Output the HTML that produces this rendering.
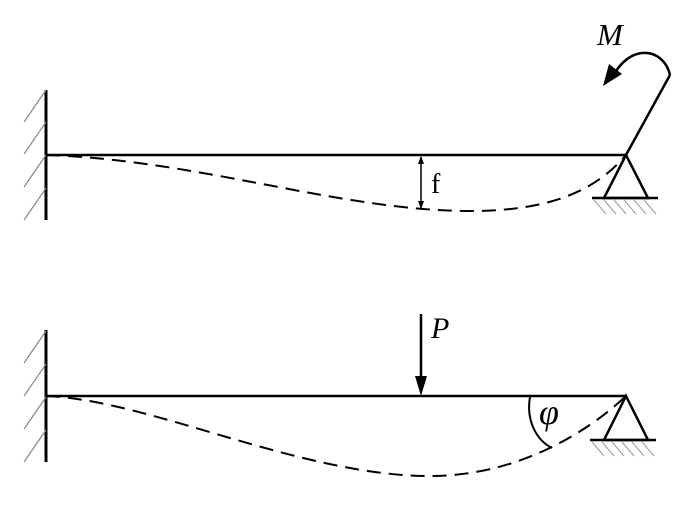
<!DOCTYPE html>
<html><head><meta charset="utf-8"><style>html,body{margin:0;padding:0;background:#fff}</style></head>
<body>
<svg width="695" height="512" viewBox="0 0 695 512" xmlns="http://www.w3.org/2000/svg">
<defs>
<marker id="as" markerWidth="8" markerHeight="8" refX="7" refY="4" orient="auto" markerUnits="userSpaceOnUse"><path d="M0,1 L8,4 L0,7 z" fill="#000"/></marker>
<marker id="as2" markerWidth="8" markerHeight="8" refX="7" refY="4" orient="auto-start-reverse" markerUnits="userSpaceOnUse"><path d="M0,1 L8,4 L0,7 z" fill="#000"/></marker>
</defs>
<g stroke="#000" fill="none">
<line x1="46" y1="90" x2="46" y2="220" stroke-width="3"/>
<g stroke="#888" stroke-width="1.2">
<line x1="46" y1="90" x2="24" y2="122"/><line x1="46" y1="122" x2="24" y2="154"/><line x1="46" y1="155" x2="24" y2="187"/><line x1="46" y1="188" x2="24" y2="220"/>
</g>
<line x1="46" y1="155" x2="626" y2="155" stroke-width="2.5"/>
<path d="M46,155 C200,160 340,211 470,211 C560,211 600,185 626,155" stroke-width="2" stroke-dasharray="14,8"/>
<path d="M626,155 L604,198 L648,198 Z" stroke-width="2.5" fill="#fff"/>
<line x1="592" y1="198" x2="658" y2="198" stroke-width="2.5"/>
<g stroke="#999" stroke-width="1"><line x1="594" y1="200" x2="606" y2="214"/><line x1="604" y1="200" x2="616" y2="214"/><line x1="614" y1="200" x2="626" y2="214"/><line x1="624" y1="200" x2="636" y2="214"/><line x1="634" y1="200" x2="646" y2="214"/><line x1="644" y1="200" x2="656" y2="214"/></g>
<line x1="626" y1="155" x2="670" y2="75" stroke-width="2.5"/>
<path d="M670,75 C664,48 630,42 612,78" stroke-width="2.5"/>
<path d="M603,86 L609,64 L622,74 Z" fill="#000" stroke="none"/>
<line x1="421" y1="157" x2="421" y2="208" stroke-width="1.5" marker-start="url(#as2)" marker-end="url(#as)"/>
<line x1="46" y1="330" x2="46" y2="462" stroke-width="3"/>
<g stroke="#888" stroke-width="1.2">
<line x1="46" y1="331" x2="24" y2="363"/><line x1="46" y1="364" x2="24" y2="396"/><line x1="46" y1="397" x2="24" y2="429"/><line x1="46" y1="430" x2="24" y2="462"/>
</g>
<line x1="46" y1="396" x2="626" y2="396" stroke-width="2.5"/>
<path d="M46,396 C150,400 300,476 430,476 C520,476 590,430 626,396" stroke-width="2" stroke-dasharray="14,8"/>
<path d="M626,396 L604,440 L648,440 Z" stroke-width="2.5" fill="#fff"/>
<line x1="590" y1="440" x2="656" y2="440" stroke-width="2.5"/>
<g stroke="#999" stroke-width="1"><line x1="592" y1="442" x2="604" y2="456"/><line x1="602" y1="442" x2="614" y2="456"/><line x1="612" y1="442" x2="624" y2="456"/><line x1="622" y1="442" x2="634" y2="456"/><line x1="632" y1="442" x2="644" y2="456"/><line x1="642" y1="442" x2="654" y2="456"/></g>
<line x1="421" y1="314" x2="421" y2="380" stroke-width="2.5"/>
<path d="M415,376 L427,376 L421,396 Z" fill="#000" stroke="none"/>
<path d="M530,397 C526,420 536,440 552,448" stroke-width="2"/>
</g>
<g font-family="Liberation Serif, serif" fill="#000">
<text x="597" y="45" font-size="31" font-style="italic">M</text>
<text x="431" y="193" font-size="28">f</text>
<text x="431" y="338" font-size="30" font-style="italic">P</text>
<text x="539" y="424" font-size="36" font-style="italic">φ</text>
</g>
</svg>
</body></html>
